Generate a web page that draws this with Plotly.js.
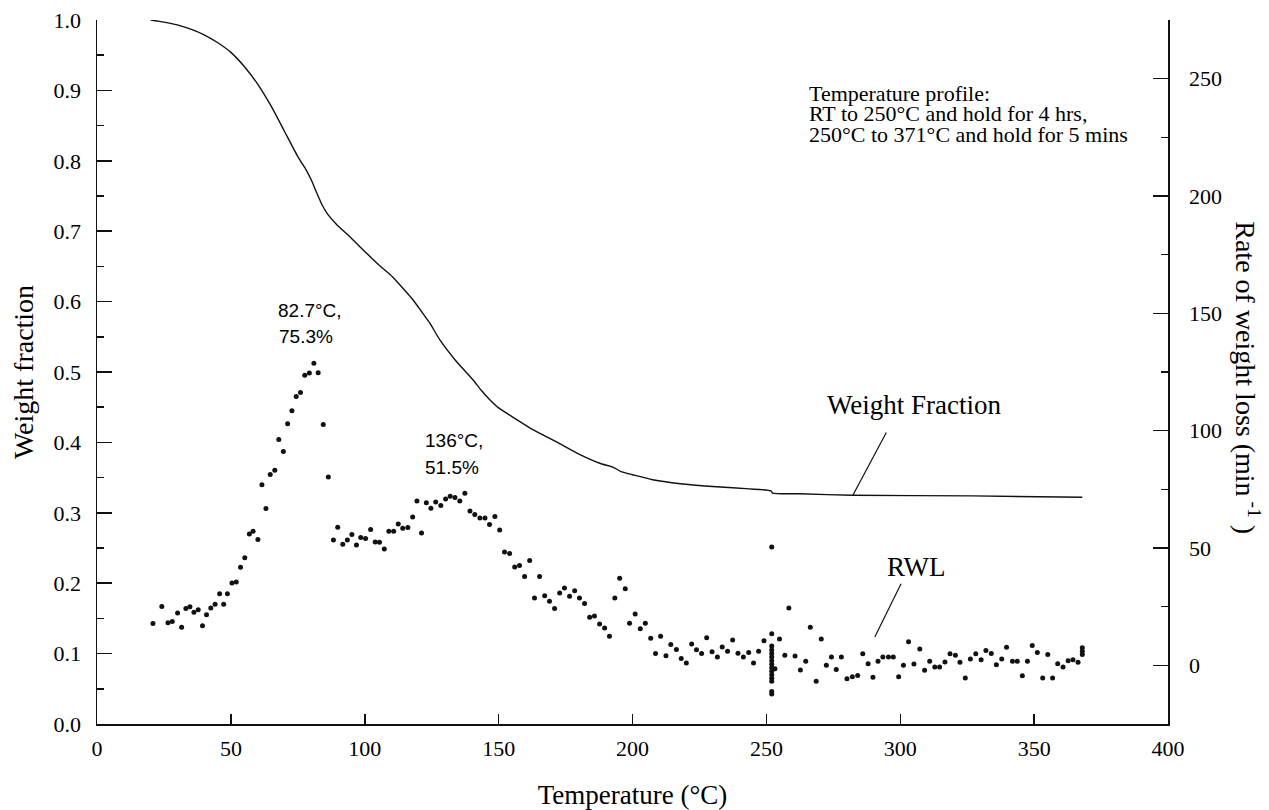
<!DOCTYPE html>
<html>
<head>
<meta charset="utf-8">
<script src="https://cdn.plot.ly/plotly-3.0.1.min.js"></script>
<style>html,body{margin:0;padding:0;background:#fff;}#chart{width:1269px;height:810px;}</style>
</head>
<body>
<div id="chart"></div>
<script>
// Weight fraction curve (left axis)
var temperatureWF = [20, 25, 30, 35, 40, 45, 50, 55, 60, 65, 70, 75, 78.1, 80, 82, 84, 86, 89.4, 95, 100.6, 105, 110.4, 114, 117.9, 121, 124.2, 128, 134, 140.4, 143.5, 146.6, 150, 155.3, 162.8, 171.5, 180.2, 188, 192.6, 196, 200, 207.5, 218.8, 231.3, 243.7, 251.8, 252.3, 262.4, 282, 327, 368];
var weightFraction = [1.0, 0.997, 0.993, 0.987, 0.979, 0.968, 0.954, 0.934, 0.909, 0.878, 0.842, 0.806, 0.787, 0.773, 0.755, 0.738, 0.725, 0.710, 0.69, 0.669, 0.653, 0.635, 0.620, 0.603, 0.587, 0.570, 0.546, 0.516, 0.489, 0.474, 0.461, 0.449, 0.436, 0.418, 0.401, 0.383, 0.370, 0.365, 0.358, 0.354, 0.347, 0.341, 0.337, 0.334, 0.331, 0.328, 0.327, 0.325, 0.324, 0.322];

// Rate of weight loss (right axis)
var temperatureRWL = [20.9, 24.2, 26.5, 28.1, 30.1, 31.6, 33.2, 34.7, 36.2, 37.8, 39.4, 40.9, 42.5, 44.1, 45.8, 47.3, 48.7, 50.4, 52.0, 53.6, 55.2, 56.9, 58.3, 60.1, 61.6, 63.1, 64.7, 66.4, 67.9, 69.6, 71.2, 72.8, 74.4, 76.0, 77.6, 79.3, 81.0, 82.6, 84.5, 86.4,
  88.3, 89.9, 91.8, 93.5, 95.2, 96.9, 98.5, 100.3, 102.2, 103.9, 105.5, 107.3, 109.0, 110.8, 112.5, 114.2, 116.1, 117.9, 119.5, 121.2, 123.0, 124.7, 126.5, 128.4, 130.2, 131.9, 133.7, 135.5, 137.4, 139.3, 141.1, 143.0, 144.9, 146.6, 148.6, 150.4,
  152.2, 154.1, 156.0, 157.8, 159.7, 161.6, 163.4, 165.3, 167.2, 169.0, 170.9, 172.8, 174.6, 176.5, 178.4, 180.2, 182.1, 184.0, 185.8, 187.7, 189.6, 191.4, 193.4, 195.2, 197.3, 198.9, 201.0, 202.9, 204.8, 206.8, 208.6, 210.5, 212.5, 214.3, 216.4, 218.2, 220.1, 222.1, 223.9, 225.8, 227.7, 229.7, 231.7, 233.5, 235.5, 237.4, 239.4, 241.4, 243.4, 245.2, 247.1, 249.1,
  252, 252, 252, 252, 252, 252, 252, 252, 252, 252, 252, 252, 252, 252, 252,
  253.2, 254.9, 256.9, 258.4, 260.7, 262.7, 264.7, 266.4, 268.6, 270.5, 272.4, 274.3, 276.1, 278.0, 280.1, 282.1, 284.1, 286.0, 288.0, 289.8, 291.7, 293.5, 295.6, 297.4, 299.4, 301.2, 303.1, 305.1, 307.3, 309.1, 311.0, 312.9, 314.7, 316.7, 318.6, 320.6, 322.3, 324.3, 326.2, 328.2, 330.2, 332.0, 334.0, 335.9, 337.9, 339.7, 341.9, 343.7, 345.6, 347.5, 349.3, 351.2, 353.2, 355.1, 356.9, 358.8, 360.8, 362.7, 364.5, 366.4, 368, 368, 368];
var rwl = [17.8, 25.1, 18.1, 18.7, 22.3, 16.2, 24.2, 25.0, 22.6, 23.7, 16.9, 21.6, 24.4, 26.0, 30.5, 26.0, 30.5, 35.1, 35.5, 41.8, 45.8, 56.0, 57.1, 53.6, 76.9, 66.8, 81.3, 83.1, 96.2, 91.1, 103.0, 108.5, 114.6, 116.3, 123.6, 124.6, 128.7, 124.7, 102.6, 80.3,
  53.4, 58.8, 51.6, 53.4, 55.7, 51.3, 54.5, 54.1, 57.9, 52.6, 52.4, 49.6, 57.1, 57.1, 60.2, 58.4, 58.7, 63.2, 70.0, 56.4, 69.3, 66.9, 69.6, 68.1, 70.9, 72.0, 71.5, 70.0, 73.3, 65.8, 64.3, 62.8, 62.8, 60.0, 63.4, 57.7,
  48.3, 47.7, 41.9, 42.5, 37.9, 44.7, 28.7, 37.9, 29.7, 27.3, 24.2, 30.8, 33.0, 29.4, 31.8, 28.7, 26.3, 20.5, 21.0, 17.6, 15.9, 12.4, 28.7, 37.1, 32.6, 17.9, 21.9, 15.6, 17.9, 11.5, 5.0, 12.4, 4.1, 8.9, 6.8, 2.9, 1.0, 9.1, 6.6, 5.0, 11.8, 5.8, 3.6, 7.8, 6.0, 10.8, 5.1, 3.6, 5.5, 1.0, 6.0, 10.5,
  50.4, 13.5, 8.2, 6.5, 5.0, 3.5, 2.0, 0.5, -1.0, -2.5, -4.0, -5.5, -6.8, -11.1, -12.2,
  -1.5, 11.2, 4.3, 24.4, 4.0, -2.0, 1.7, 16.2, -6.8, 11.2, 0.0, 3.6, -1.8, 3.6, -5.7, -4.9, -4.3, 4.9, 0.7, -5.1, 1.7, 3.6, 3.6, 3.6, -4.9, 0.0, 10.0, 0.6, 7.0, -2.1, 1.7, -0.7, -0.7, 1.4, 4.9, 4.3, 1.3, -5.4, 2.7, 4.9, 2.4, 6.3, 5.0, 0.3, 2.7, 7.7, 1.7, 1.7, -4.4, 1.7, 8.5, 5.5, -5.4, 4.6, -5.4, 0.7, -0.7, 2.0, 2.4, 1.3, 4.6, 6.0, 7.5];

// Tick labels
var xTickVals = [0, 50, 100, 150, 200, 250, 300, 350, 400];
var xTickText = ['0', '50', '100', '150', '200', '250', '300', '350', '400'];
var yTickVals = [0, 0.1, 0.2, 0.3, 0.4, 0.5, 0.6, 0.7, 0.8, 0.9, 1.0];
var yTickText = ['0.0', '0.1', '0.2', '0.3', '0.4', '0.5', '0.6', '0.7', '0.8', '0.9', '1.0'];
var y2TickVals = [0, 50, 100, 150, 200, 250];
var y2TickText = ['0', '50', '100', '150', '200', '250'];

var INK = '#111';
var SERIF = 'Liberation Serif';
var SANS = 'Liberation Sans';

var traces = [
  {x: temperatureWF, y: weightFraction, type: 'scatter', mode: 'lines',
   line: {color: INK, width: 1.4, shape: 'spline', smoothing: 0.6}, yaxis: 'y', name: 'Weight Fraction', hoverinfo: 'skip'},
  {x: temperatureRWL, y: rwl, type: 'scatter', mode: 'markers',
   marker: {color: INK, size: 5}, yaxis: 'y2', name: 'RWL', hoverinfo: 'skip'}
];

var layout = {
  width: 1269, height: 810,
  margin: {l: 97, r: 101, t: 20, b: 86},
  paper_bgcolor: '#fff', plot_bgcolor: '#fff',
  showlegend: false,
  font: {family: SERIF, size: 22, color: '#000'},
  xaxis: {
    range: [0, 400], tickmode: 'array', tickvals: xTickVals, ticktext: xTickText,
    showgrid: false, zeroline: false, showline: true, linecolor: INK, linewidth: 1.5,
    ticks: 'inside', ticklen: 10, tickcolor: INK, tickwidth: 1.5,
    tickfont: {family: SERIF, size: 22, color: '#000'},
    ticklabelstandoff: 4, automargin: false,
    title: {text: 'Temperature (°C)', font: {family: SERIF, size: 27, color: '#000'}, standoff: 25}
  },
  yaxis: {
    range: [0, 1], tickmode: 'array', tickvals: yTickVals, ticktext: yTickText,
    showgrid: false, zeroline: false, showline: true, linecolor: INK, linewidth: 1.5,
    ticks: 'inside', ticklen: 15, tickcolor: INK, tickwidth: 1.5,
    tickfont: {family: SERIF, size: 22, color: '#000'},
    ticklabelstandoff: 10, automargin: false,
    minor: {dtick: 0.05, tick0: 0, ticks: 'inside', ticklen: 7, tickcolor: INK, tickwidth: 1.5, showgrid: false},
    title: {text: 'Weight fraction', font: {family: SERIF, size: 28, color: '#000'}, standoff: 12}
  },
  yaxis2: {
    overlaying: 'y', side: 'right', range: [-25, 275], tickmode: 'array', tickvals: y2TickVals, ticktext: y2TickText,
    showgrid: false, zeroline: false, showline: true, linecolor: INK, linewidth: 1.5,
    ticks: 'inside', ticklen: 15, tickcolor: INK, tickwidth: 1.5,
    tickfont: {family: SERIF, size: 22, color: '#000'},
    ticklabelstandoff: 15, automargin: false,
    minor: {dtick: 25, tick0: 0, ticks: 'inside', ticklen: 7, tickcolor: INK, tickwidth: 1.5, showgrid: false}
  },
  shapes: [
    {type: 'line', xref: 'x', yref: 'y', x0: 294.8, y0: 0.414, x1: 282.3, y1: 0.325, line: {color: INK, width: 1.2}},
    {type: 'line', xref: 'x', yref: 'y2', x0: 300.3, y0: 34.8, x1: 290.5, y1: 12.1, line: {color: INK, width: 1.2}}
  ],
  annotations: [
    {xref: 'paper', yref: 'paper', x: 1.0735, y: 0.4915, xanchor: 'center', yanchor: 'middle', textangle: 90, showarrow: false,
     text: 'Rate of weight loss (min<sup> -1</sup> )', font: {family: SERIF, size: 28, color: '#000'}},
    {xref: 'x', yref: 'y', x: 67.0, y: 0.588, xanchor: 'left', yanchor: 'middle', showarrow: false,
     text: '82.7°C,', font: {family: SANS, size: 19, color: '#000'}},
    {xref: 'x', yref: 'y', x: 67.4, y: 0.550, xanchor: 'left', yanchor: 'middle', showarrow: false,
     text: '75.3%', font: {family: SANS, size: 19, color: '#000'}},
    {xref: 'x', yref: 'y', x: 121.9, y: 0.403, xanchor: 'left', yanchor: 'middle', showarrow: false,
     text: '136°C,', font: {family: SANS, size: 19, color: '#000'}},
    {xref: 'x', yref: 'y', x: 121.9, y: 0.365, xanchor: 'left', yanchor: 'middle', showarrow: false,
     text: '51.5%', font: {family: SANS, size: 19, color: '#000'}},
    {xref: 'x', yref: 'y', x: 265.3, y: 0.896, xanchor: 'left', yanchor: 'middle', showarrow: false,
     text: 'Temperature profile:', font: {family: SERIF, size: 22, color: '#000'}},
    {xref: 'x', yref: 'y', x: 265.3, y: 0.867, xanchor: 'left', yanchor: 'middle', showarrow: false,
     text: 'RT to 250°C and hold for 4 hrs,', font: {family: SERIF, size: 22, color: '#000'}},
    {xref: 'x', yref: 'y', x: 265.3, y: 0.837, xanchor: 'left', yanchor: 'middle', showarrow: false,
     text: '250°C to 371°C and hold for 5 mins', font: {family: SERIF, size: 22, color: '#000'}},
    {xref: 'x', yref: 'y', x: 305.4, y: 0.453, xanchor: 'center', yanchor: 'middle', showarrow: false,
     text: 'Weight Fraction', font: {family: SERIF, size: 27, color: '#000'}},
    {xref: 'x', yref: 'y', x: 306.1, y: 0.2234, xanchor: 'center', yanchor: 'middle', showarrow: false,
     text: 'RWL', font: {family: SERIF, size: 27, color: '#000'}}
  ]
};

Plotly.newPlot('chart', traces, layout, {staticPlot: true, displayModeBar: false});
</script>
</body>
</html>
